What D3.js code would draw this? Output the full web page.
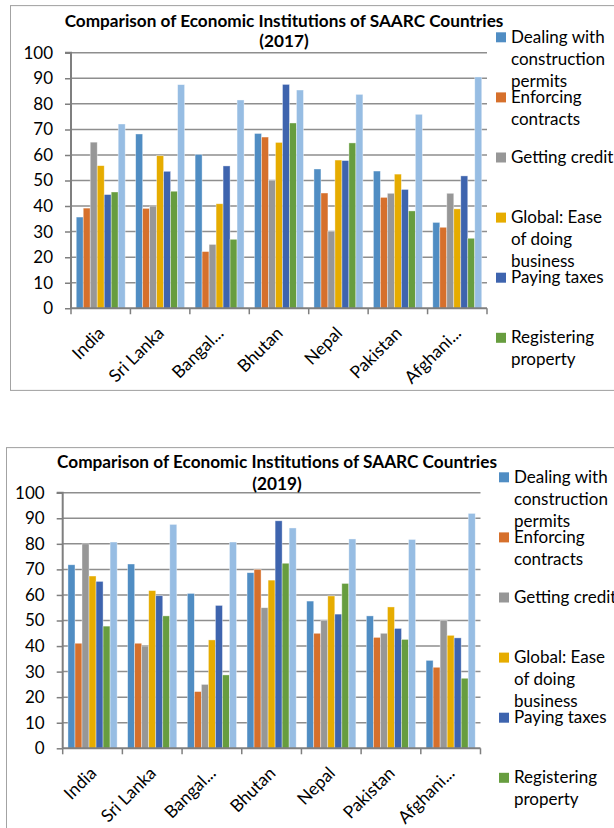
<!DOCTYPE html>
<html>
<head>
<meta charset="utf-8">
<script src="https://cdn.jsdelivr.net/npm/d3@7"></script>
<style>
  html, body { margin: 0; padding: 0; background: #ffffff; }
  svg { display: block; }
  text { font-family: Lato, "Open Sans", "DejaVu Sans", sans-serif; fill: #000; }
</style>
</head>
<body>
<svg id="chart" width="614" height="828"></svg>
<script>
// Country labels as printed on the category axis
const categories = ["India", "Sri Lanka", "Bangal...", "Bhutan", "Nepal", "Pakistan", "Afghani..."];

// Doing Business indicators (one bar per indicator in every country group)
const seriesNames = [
  "Dealing with construction permits",
  "Enforcing contracts",
  "Getting credit",
  "Global: Ease of doing business",
  "Paying taxes",
  "Registering property",
  "Starting a business"
];
const seriesColors = ["#508dc3", "#d6702c", "#979797", "#e6ac00", "#3e64ae", "#679d3f", "#97bde3"];

// Legend wording, broken into lines the way the legend wraps them;
// the legend box only has room for the first six entries
const legendLines = [
  ["Dealing with", "construction", "permits"],
  ["Enforcing", "contracts"],
  ["Getting credit"],
  ["Global: Ease", "of doing", "business"],
  ["Paying taxes"],
  ["Registering", "property"]
];

const yTicks = [0, 10, 20, 30, 40, 50, 60, 70, 80, 90, 100];

// 2017 scores, in category order
const dealing2017     = [35.7, 68.2, 60.2, 68.4, 54.5, 53.7, 33.6];
const enforcing2017   = [39.2, 39.1, 22.2, 67.0, 45.1, 43.4, 31.7];
const credit2017      = [65.0, 40.0, 25.0, 50.0, 30.0, 45.0, 45.0];
const ease2017        = [55.8, 59.7, 40.9, 64.9, 58.0, 52.5, 38.9];
const taxes2017       = [44.5, 53.6, 55.7, 87.6, 57.8, 46.5, 51.8];
const property2017    = [45.5, 45.8, 27.0, 72.5, 64.7, 38.1, 27.4];
const starting2017    = [72.1, 87.5, 81.5, 85.4, 83.7, 75.9, 90.5];

// 2019 scores, in category order
const dealing2019     = [71.8, 72.1, 60.6, 68.7, 57.6, 51.8, 34.4];
const enforcing2019   = [41.1, 41.1, 22.2, 70.0, 45.0, 43.4, 31.7];
const credit2019      = [80.0, 40.0, 25.0, 55.0, 50.0, 45.0, 50.0];
const ease2019        = [67.4, 61.7, 42.4, 65.8, 59.6, 55.3, 44.2];
const taxes2019       = [65.3, 59.7, 55.9, 89.0, 52.5, 46.9, 43.2];
const property2019    = [47.8, 51.8, 28.7, 72.4, 64.5, 42.6, 27.4];
const starting2019    = [80.7, 87.6, 80.7, 86.2, 81.9, 81.7, 91.9];

const series2017 = [dealing2017, enforcing2017, credit2017, ease2017, taxes2017, property2017, starting2017];
const series2019 = [dealing2019, enforcing2019, credit2019, ease2019, taxes2019, property2019, starting2019];

const svg = d3.select("#chart");

function drawChart(cfg) {
  const clipId = "clip-" + cfg.id;
  svg.append("defs").append("clipPath").attr("id", clipId)
    .append("rect")
    .attr("x", cfg.frame.x).attr("y", cfg.frame.y)
    .attr("width", cfg.frame.w).attr("height", cfg.frame.h);

  const g = svg.append("g").attr("clip-path", `url(#${clipId})`);

  // chart frame
  g.append("rect")
    .attr("x", cfg.frame.x).attr("y", cfg.frame.y)
    .attr("width", cfg.frame.w).attr("height", cfg.frame.h)
    .attr("fill", "#fff").attr("stroke", "#8c8c8c").attr("stroke-width", 1.6);

  const x = d3.scaleBand().domain(categories).range([cfg.plot.left, cfg.plot.right]);
  // bars fill 7 of 8.5 slot widths per group; the rest is the 150% gap split on both sides
  const slot = x.bandwidth() / 8.5;
  const inner = d3.scaleBand().domain(d3.range(seriesNames.length))
    .range([0.75 * slot, 7.75 * slot]);

  const y = d3.scaleLinear().domain([0, 100]).range([cfg.plot.bottom, cfg.plot.top]);

  // horizontal gridlines
  g.append("g").selectAll("line").data(yTicks.filter(t => t > 0)).join("line")
    .attr("x1", cfg.plot.left).attr("x2", cfg.plot.right)
    .attr("y1", d => y(d)).attr("y2", d => y(d))
    .attr("stroke", "#8e8e8e").attr("stroke-width", 1.5);

  // bars
  const groups = g.append("g").selectAll("g").data(categories).join("g")
    .attr("transform", d => `translate(${x(d)},0)`);
  groups.selectAll("rect")
    .data((c, ci) => cfg.series.map((s, si) => ({ si, v: s[ci] })))
    .join("rect")
    .attr("x", d => inner(d.si))
    .attr("width", inner.bandwidth())
    .attr("y", d => y(d.v))
    .attr("height", d => y(0) - y(d.v))
    .attr("fill", d => seriesColors[d.si])
    .attr("stroke", "#ffffff").attr("stroke-opacity", 0.55).attr("stroke-width", 0.7);

  // value axis
  const yAxis = d3.axisLeft(y).tickValues(yTicks).tickSize(6).tickPadding(12);
  const ya = g.append("g").attr("transform", `translate(${cfg.plot.left},0)`).call(yAxis);
  ya.select(".domain").attr("stroke", "#7f7f7f").attr("stroke-width", 2)
    .attr("d", `M-6,${cfg.plot.top}H0V${cfg.plot.bottom}`);
  ya.selectAll(".tick line").attr("stroke", "#7f7f7f").attr("stroke-width", 1.5);
  ya.selectAll(".tick text").attr("font-size", 17).attr("font-family", "Lato, sans-serif").attr("fill", "#000");

  // category axis with tick marks on the group boundaries
  const xa = g.append("g");
  xa.append("line")
    .attr("x1", cfg.plot.left).attr("x2", cfg.plot.right)
    .attr("y1", y(0)).attr("y2", y(0))
    .attr("stroke", "#7f7f7f").attr("stroke-width", 2);
  const bounds = categories.map(c => x(c)).concat([cfg.plot.right]);
  xa.selectAll("line.tk").data(bounds).join("line").attr("class", "tk")
    .attr("x1", d => d).attr("x2", d => d)
    .attr("y1", y(0)).attr("y2", y(0) + 6)
    .attr("stroke", "#7f7f7f").attr("stroke-width", 1.5);
  xa.selectAll("text").data(categories).join("text")
    .attr("transform", d => `translate(${x(d) + x.bandwidth() / 2 + 5},${y(0) + 26}) rotate(-45)`)
    .attr("text-anchor", "end")
    .attr("font-size", 17.5)
    .text(d => d);

  // title, two lines
  const title = g.append("text").attr("font-weight", "bold").attr("text-anchor", "middle");
  title.append("tspan").attr("x", cfg.titleX).attr("y", cfg.titleY1)
    .attr("font-size", 16.5).text("Comparison of Economic Institutions of SAARC Countries");
  title.append("tspan").attr("x", cfg.titleX).attr("y", cfg.titleY2)
    .attr("font-size", 16.5).text(cfg.year);
  const w = title.select("tspan").node().getComputedTextLength();
  if (w > 0) title.selectAll("tspan").attr("font-size", 16.5 * cfg.titleWidth / w);

  // legend, one entry every ~60px
  const leg = g.append("g");
  legendLines.forEach((lines, i) => {
    const by = cfg.legendY + i * cfg.legendStep;
    leg.append("rect")
      .attr("x", cfg.legendX).attr("y", by - 10.4)
      .attr("width", 10).attr("height", 10)
      .attr("fill", seriesColors[i]);
    const t = leg.append("text").attr("font-size", 17);
    lines.forEach((ln, k) => {
      t.append("tspan").attr("x", cfg.legendX + 15).attr("y", by + k * 22).text(ln);
    });
  });
}

drawChart({
  id: "y2017", year: "(2017)", series: series2017,
  frame: { x: 10, y: 5.3, w: 620, h: 385.4 },
  plot: { left: 71, right: 487, top: 52.7, bottom: 308.3 },
  titleX: 284, titleY1: 26.7, titleY2: 47, titleWidth: 439,
  legendX: 496, legendY: 42.7, legendStep: 60.1
});

drawChart({
  id: "y2019", year: "(2019)", series: series2019,
  frame: { x: 6, y: 447.3, w: 620, h: 400 },
  plot: { left: 62.7, right: 480.5, top: 492.7, bottom: 748.3 },
  titleX: 277, titleY1: 467.7, titleY2: 490, titleWidth: 440,
  legendX: 499, legendY: 482.7, legendStep: 60.1
});
</script>
</body>
</html>
